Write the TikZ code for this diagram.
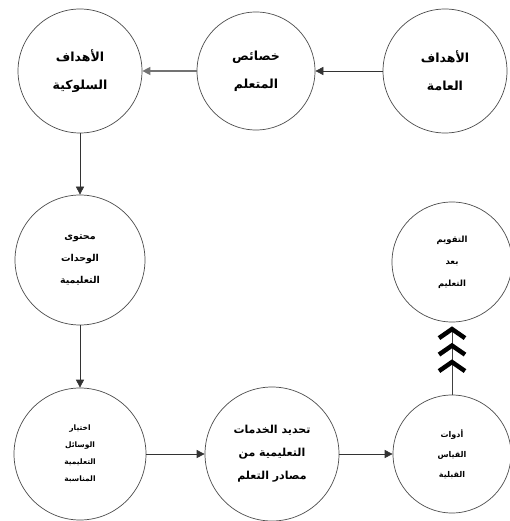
\documentclass[tikz,border=0pt]{standalone}
\usepackage{fontspec}
\newfontfamily\arabicfont[Script=Arabic]{DejaVu Sans}
\TeXXeTstate=1
\usetikzlibrary{arrows.meta}
\newcommand\arl[1]{\beginR #1\endR}
\begin{document}
\begin{tikzpicture}[x=1pt,y=-1pt,
  stage/.style={circle,draw=black!70,line width=0.7pt,inner sep=0pt,align=center,text=black},
  conn/.style={draw=black!80,line width=0.7pt,-{Triangle[length=8pt,width=8pt]}},
  chev/.style={draw=black!75,line width=0.7pt,
    -{Straight Barb[length=9pt,width=26pt,line width=4.5pt,sep=2.5pt,color=black]
      Straight Barb[length=9pt,width=26pt,line width=4.5pt,sep=2.5pt,color=black]
      Straight Barb[length=9pt,width=26pt,line width=4.5pt,sep=4pt,color=black]}}]
\useasboundingbox (0,0) rectangle (510,521);
\fill[white] (0,0) rectangle (510,521);

\node[stage,minimum size=124pt,font=\arabicfont\bfseries\fontsize{12.5}{28}\selectfont] (goals) at (445,71)
  {\arl{الأهداف}\\\arl{العامة}};
\node[stage,minimum size=118pt,font=\arabicfont\bfseries\fontsize{12.5}{28}\selectfont] (learner) at (256,71)
  {\arl{خصائص}\\\arl{المتعلم}};
\node[stage,minimum size=124pt,font=\arabicfont\bfseries\fontsize{12.5}{28}\selectfont] (behav) at (80,71)
  {\arl{الأهداف}\\\arl{السلوكية}};
\node[stage,minimum size=130pt,font=\arabicfont\bfseries\fontsize{9.5}{22}\selectfont] (content) at (80,260)
  {\arl{محتوى}\\\arl{الوحدات}\\\arl{التعليمية}};
\node[stage,minimum size=132pt,font=\arabicfont\bfseries\fontsize{7.5}{17}\selectfont] (media) at (80,454)
  {\arl{اختيار}\\\arl{الوسائل}\\\arl{التعليمية}\\\arl{المناسبة}};
\node[stage,minimum size=134pt,font=\arabicfont\bfseries\fontsize{11}{23}\selectfont] (services) at (272,454)
  {\arl{تحديد الخدمات}\\\arl{التعليمية من}\\\arl{مصادر التعلم}};
\node[stage,minimum size=118pt,font=\arabicfont\bfseries\fontsize{8}{20}\selectfont] (pretest) at (452,454)
  {\arl{أدوات}\\\arl{القياس}\\\arl{القبلية}};
\node[stage,minimum size=120pt,font=\arabicfont\bfseries\fontsize{8.5}{22}\selectfont] (eval) at (452,262)
  {\arl{التقويم}\\\arl{بعد}\\\arl{التعليم}};

\draw[conn] (goals) -- (learner);
\draw[conn,draw=black!55,line width=1.2pt] (learner) -- (behav);
\draw[conn] (behav) -- (content);
\draw[conn] (content) -- (media);
\draw[conn] (media) -- (services);
\draw[conn] (services) -- (pretest);
\draw[chev] (pretest) -- (eval);
\end{tikzpicture}
\end{document}
